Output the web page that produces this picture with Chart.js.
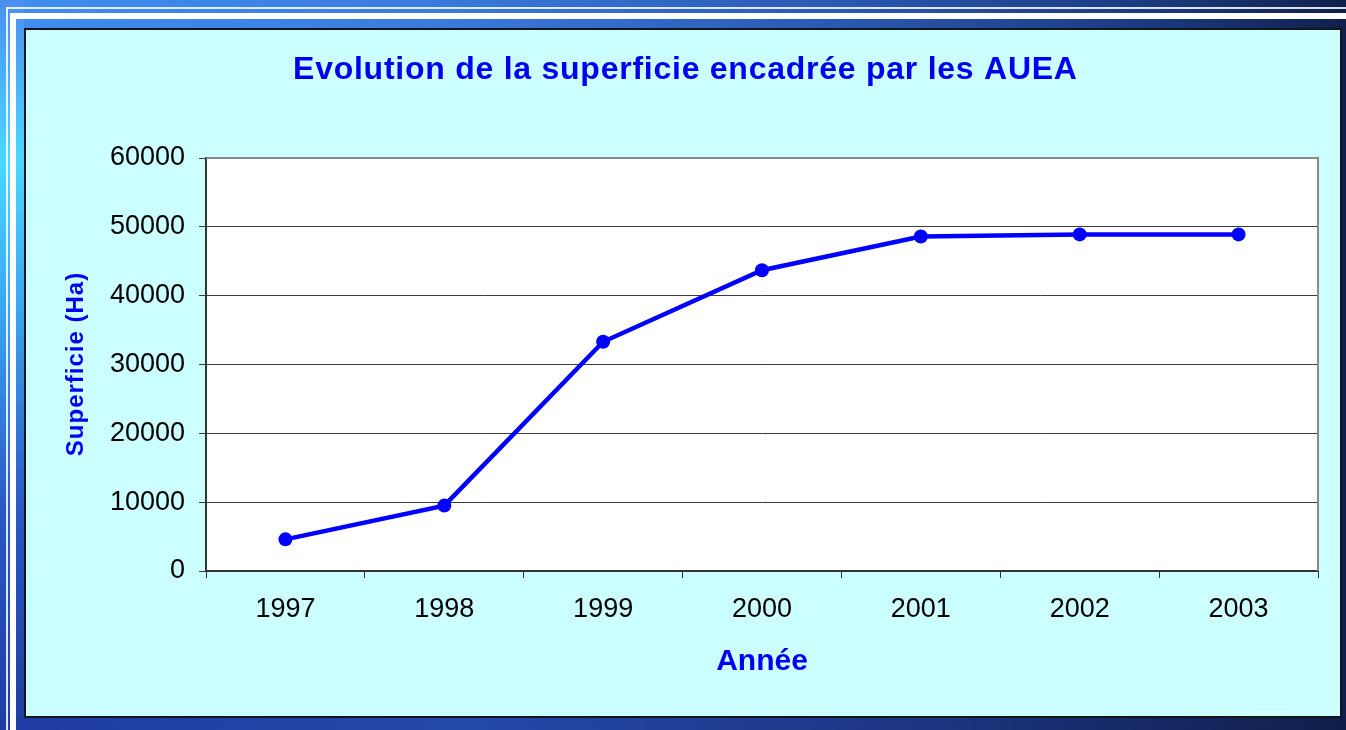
<!DOCTYPE html>
<html>
<head>
<meta charset="utf-8">
<script src="https://cdn.jsdelivr.net/npm/chart.js@4.4.1/dist/chart.umd.min.js"></script>
<style>
  html, body { margin: 0; padding: 0; }
  body {
    width: 1346px; height: 730px; position: relative; overflow: hidden;
    background: linear-gradient(90deg, #3f8ff0 0%, #3b7ddf 30%, #2b5cb6 60%, #1b3b80 85%, #10204c 100%);
  }
  .edge {
    position: absolute; left: 0; top: 0; width: 24px; height: 730px;
    background: linear-gradient(180deg, #4a8ef0 0%, #4ad8ff 22%, #3aa6f2 42%, #2a58c4 70%, #1f3ca4 100%);
  }
  .foot {
    position: absolute; left: 0; top: 716px; width: 1346px; height: 14px;
    background: linear-gradient(90deg, #1f3ca4 0%, #2448a8 35%, #1c3480 70%, #101e4a 100%);
  }
  .line { position: absolute; background: #ffffff; }
  #panel {
    position: absolute; left: 24px; top: 28px; width: 1314px; height: 686px;
    border: 2px solid #10161c; background: #ccffff;
  }
</style>
</head>
<body>
<div class="edge"></div>
<div class="foot"></div>
<div class="line" style="left:6px;top:7px;width:1340px;height:2px;opacity:0.85"></div>
<div class="line" style="left:10px;top:13px;width:1336px;height:6px"></div>
<div class="line" style="left:6px;top:7px;width:2px;height:723px;opacity:0.85"></div>
<div class="line" style="left:10px;top:13px;width:6px;height:717px"></div>
<div id="panel"><canvas id="chart"></canvas></div>
<script>
const years = ["1997", "1998", "1999", "2000", "2001", "2002", "2003"];
const superficie = [4600, 9500, 33300, 43700, 48600, 48900, 48900];
const yMin = 0;
const yMax = 60000;
const yStep = 10000;

const titleText = "Evolution de la superficie encadrée par les AUEA";
const yTitleText = "Superficie (Ha)";
const xTitleText = "Année";

const fam = '"Liberation Sans", Arial, sans-serif';
const blue = "#0000f0";

// white plot area + grey frame on top/right like the Excel chart
const plotFrame = {
  id: "plotFrame",
  beforeDraw(chart) {
    const a = chart.chartArea, ctx = chart.ctx;
    ctx.save();
    ctx.fillStyle = "#ffffff";
    ctx.fillRect(a.left, a.top, a.right - a.left, a.bottom - a.top);
    ctx.restore();
  },
  beforeDatasetsDraw(chart) {
    const a = chart.chartArea, ctx = chart.ctx;
    ctx.save();
    ctx.strokeStyle = "#8a8a8a";
    ctx.lineWidth = 2;
    ctx.beginPath();
    ctx.moveTo(a.left, a.top);
    ctx.lineTo(a.right, a.top);
    ctx.lineTo(a.right, a.bottom);
    ctx.stroke();
    ctx.restore();
  }
};

function spacedText(ctx, text, x, y, size, spacing, angle) {
  ctx.save();
  ctx.translate(x, y);
  if (angle) ctx.rotate(angle);
  ctx.font = "bold " + size + "px " + fam;
  ctx.letterSpacing = spacing + "px";
  ctx.fillStyle = blue;
  ctx.textAlign = "center";
  ctx.textBaseline = "alphabetic";
  ctx.fillText(text, spacing / 2, 0);
  ctx.restore();
}

// titles drawn by hand because they need letter spacing
const titles = {
  id: "titles",
  afterDraw(chart) {
    const a = chart.chartArea, ctx = chart.ctx;
    spacedText(ctx, titleText, chart.width / 2 + 2, 49, 32, 0.75, 0);
    spacedText(ctx, yTitleText, 57, (a.top + a.bottom) / 2, 24, 1, -Math.PI / 2);
    spacedText(ctx, xTitleText, (a.left + a.right) / 2, 640, 30, 0, 0);
  }
};

new Chart(document.getElementById("chart"), {
  type: "line",
  data: {
    labels: years,
    datasets: [{
      data: superficie,
      borderColor: "#0000ff",
      backgroundColor: "#0000ff",
      borderWidth: 4.5,
      pointRadius: 7,
      pointBorderWidth: 0,
      pointBackgroundColor: "#0000ff",
      tension: 0,
      clip: false
    }]
  },
  options: {
    responsive: true,
    maintainAspectRatio: false,
    animation: false,
    layout: { padding: { top: 128, right: 22, left: 0, bottom: 0 } },
    plugins: {
      legend: { display: false },
      tooltip: { enabled: false },
      title: { display: false }
    },
    scales: {
      x: {
        offset: true,
        grid: { offset: true, drawOnChartArea: false, tickLength: 7, color: "#333333", lineWidth: 1 },
        border: { color: "#333333", width: 2 },
        ticks: { color: "#000000", font: { family: fam, size: 27 }, padding: 15, maxRotation: 0 },
        afterFit(s) { s.height = 145; }
      },
      y: {
        min: yMin,
        max: yMax,
        grid: { color: "#3c3c3c", lineWidth: 1, tickLength: 7 },
        border: { color: "#333333", width: 2 },
        ticks: {
          stepSize: yStep,
          color: "#000000",
          font: { family: fam, size: 27 },
          padding: 14,
          callback: (v) => String(v)
        },
        afterFit(s) { s.width = 180; }
      }
    }
  },
  plugins: [plotFrame, titles]
});
</script>
</body>
</html>
